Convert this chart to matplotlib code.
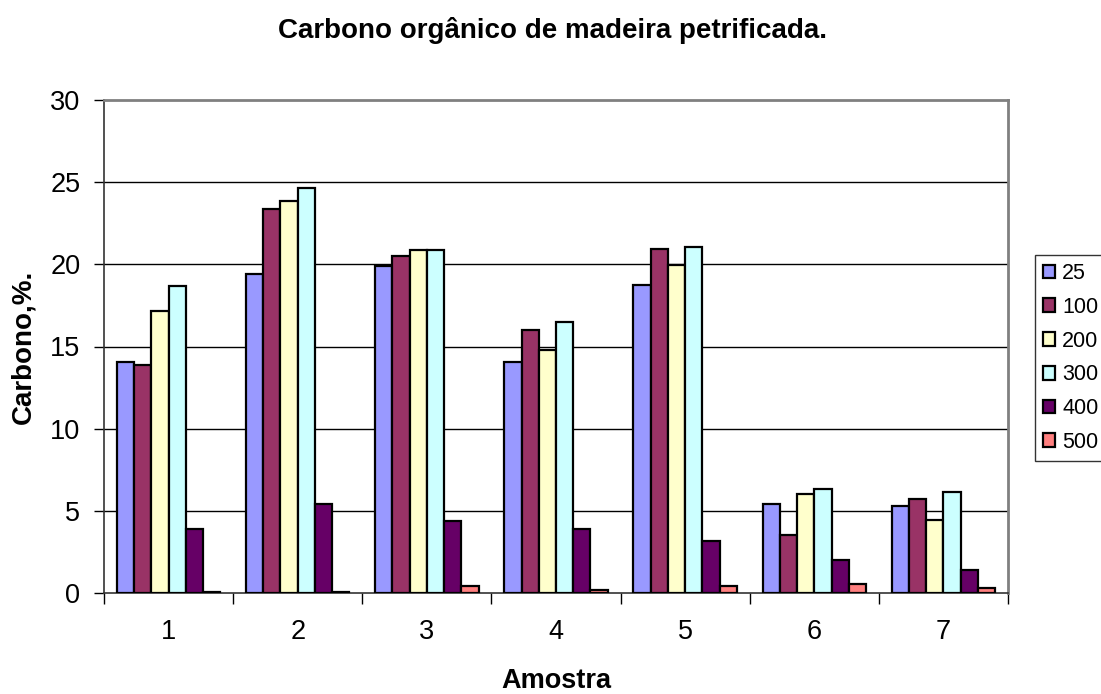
import matplotlib
matplotlib.use("Agg")
import matplotlib.pyplot as plt
import numpy as np

plt.rcParams['font.family'] = ['Liberation Sans', 'DejaVu Sans']

# Data: organic carbon (%) per sample, one series per temperature
samples = ["1", "2", "3", "4", "5", "6", "7"]
series_labels = ["25", "100", "200", "300", "400", "500"]
v25 = [14.05, 19.42, 19.91, 14.05, 18.75, 5.39, 5.27]
v100 = [13.85, 23.36, 20.48, 16.0, 20.94, 3.55, 5.70]
v200 = [17.17, 23.88, 20.86, 14.8, 19.95, 6.04, 4.42]
v300 = [18.69, 24.65, 20.90, 16.5, 21.06, 6.34, 6.12]
v400 = [3.89, 5.39, 4.38, 3.87, 3.18, 2.00, 1.38]
v500 = [0.08, 0.05, 0.44, 0.20, 0.40, 0.55, 0.32]
series_values = [v25, v100, v200, v300, v400, v500]
colors = ["#9999FF", "#993366", "#FFFFCC", "#CCFFFF", "#660066", "#FF8080"]

W, H = 1101, 694
fig = plt.figure(figsize=(W / 100, H / 100), dpi=100)
ax = fig.add_axes([104 / W, 1 - 593 / H, (1008 - 104) / W, (593 - 100) / H])

x = np.arange(len(samples))
bw = 1 / 7.5
for i, (vals, col, lab) in enumerate(zip(series_values, colors, series_labels)):
    ax.bar(x + (i - 2.5) * bw, vals, width=bw, color=col, edgecolor="black",
           linewidth=1.6, label=lab, zorder=3)

ax.set_xlim(-0.5, len(samples) - 0.5)
ax.set_ylim(0, 30)
ax.set_yticks(np.arange(0, 31, 5))
ax.tick_params(axis="y", direction="out", length=7, width=1, pad=10, labelsize=19.5)

# category boundaries carry the tick marks, centres carry the labels
ax.set_xticks(np.arange(-0.5, len(samples), 1))
ax.set_xticklabels([])
ax.set_xticks(x, minor=True)
ax.set_xticklabels(samples, minor=True)
ax.tick_params(axis="x", which="major", direction="out", length=8, width=1)
ax.tick_params(axis="x", which="minor", length=0, pad=19, labelsize=19.5)

for yv in range(5, 30, 5):
    ax.axhline(yv, color="black", linewidth=1.0, zorder=1)

for side in ("top", "right"):
    ax.spines[side].set_color("#808080")
    ax.spines[side].set_linewidth(2)
for side in ("left", "bottom"):
    ax.spines[side].set_color("#333333")
    ax.spines[side].set_linewidth(1.2)

fig.text(553 / W, 1 - 30 / H, "Carbono orgânico de madeira petrificada.",
         ha="center", va="center", fontsize=20, fontweight="bold")
fig.text(556 / W, 1 - 681 / H, "Amostra", ha="center", va="center",
         fontsize=19.5, fontweight="bold")
fig.text(23 / W, 1 - 347 / H, "Carbono,%.", ha="center", va="center",
         fontsize=20, fontweight="bold", rotation=90)

leg = fig.legend(loc="upper left", bbox_to_anchor=(1035 / W, 1 - 255 / H),
                 fontsize=15.5, frameon=True, fancybox=False, handlelength=0.56,
                 handleheight=0.6, handletextpad=0.33, labelspacing=0.59,
                 borderpad=0.38, borderaxespad=0)
leg.get_frame().set_edgecolor("black")
leg.get_frame().set_linewidth(1)

fig.savefig("out.png", dpi=100)
